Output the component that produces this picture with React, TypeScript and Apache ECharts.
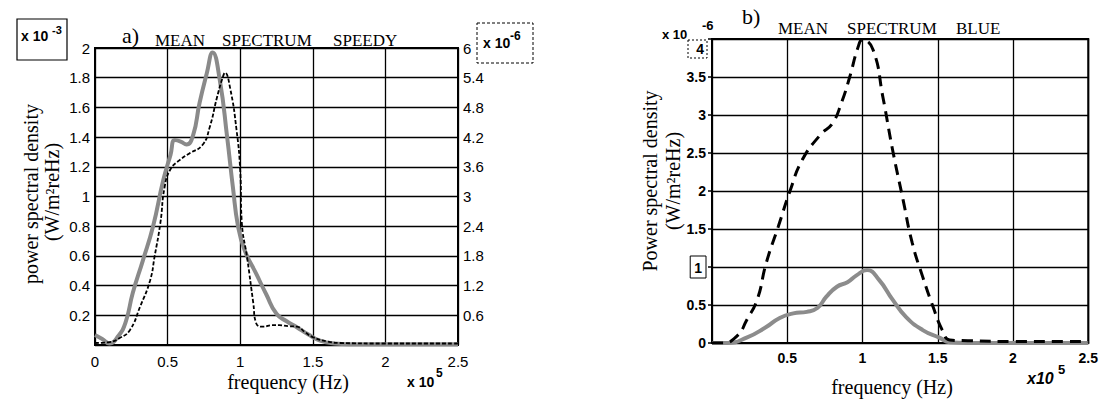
import React, { useEffect, useRef } from "react";
import * as echarts from "echarts";

// ---- Data (frequency in units of 10^5 Hz) ----
// a) SPEEDY — grey solid curve, left axis (x 10^-3)
const speedyGrayFreq = [0, 0.05, 0.1, 0.16, 0.21, 0.26, 0.33, 0.4, 0.47, 0.52, 0.55, 0.59, 0.63, 0.675, 0.72, 0.77, 0.81, 0.86, 0.91, 0.95, 0.985, 1.03, 1.11, 1.18, 1.25, 1.32, 1.39, 1.47, 1.55, 1.65, 1.75, 2.0, 2.5];
const speedyGrayPsd = [0.067, 0.04, 0.01, 0.06, 0.15, 0.35, 0.57, 0.8, 1.11, 1.28, 1.38, 1.37, 1.35, 1.41, 1.63, 1.83, 1.97, 1.78, 1.4, 1.06, 0.8, 0.64, 0.48, 0.34, 0.21, 0.16, 0.12, 0.07, 0.03, 0.01, 0.005, 0.005, 0.005];
// a) SPEEDY — black dashed curve, right axis (x 10^-6)
const speedyDashFreq = [0, 0.1, 0.17, 0.24, 0.31, 0.38, 0.41, 0.45, 0.48, 0.52, 0.585, 0.65, 0.74, 0.79, 0.84, 0.88, 0.895, 0.93, 0.975, 1.0, 1.01, 1.05, 1.09, 1.11, 1.16, 1.22, 1.27, 1.33, 1.39, 1.45, 1.5, 1.6, 1.69, 2.0, 2.5];
const speedyDashPsd = [0.04, 0.06, 0.14, 0.3, 0.77, 1.31, 1.78, 2.46, 3.2, 3.55, 3.74, 3.87, 4.04, 4.4, 5.0, 5.41, 5.5, 5.2, 4.34, 3.53, 2.52, 1.72, 0.85, 0.44, 0.37, 0.4, 0.4, 0.38, 0.37, 0.25, 0.16, 0.07, 0.04, 0.03, 0.03];
// b) BLUE — black dashed curve (x 10^-6)
const blueDashFreq = [0, 0.07, 0.17, 0.23, 0.3, 0.36, 0.44, 0.52, 0.6, 0.72, 0.8, 0.86, 0.915, 0.97, 1.0, 1.07, 1.135, 1.2, 1.27, 1.33, 1.4, 1.47, 1.53, 1.58, 1.7, 2.0, 2.5];
const blueDashPsd = [0, 0, 0.1, 0.3, 0.57, 1.05, 1.53, 2.01, 2.41, 2.74, 2.89, 3.16, 3.5, 3.89, 3.99, 3.86, 3.24, 2.54, 1.88, 1.32, 0.87, 0.47, 0.17, 0.04, 0.03, 0.02, 0.02];
// b) BLUE — grey solid curve (x 10^-6)
const blueGrayFreq = [0, 0.1, 0.23, 0.36, 0.45, 0.54, 0.63, 0.7, 0.76, 0.83, 0.9, 0.96, 1.03, 1.11, 1.2, 1.29, 1.4, 1.51, 1.58, 1.7, 2.5];
const blueGrayPsd = [0, 0, 0.07, 0.21, 0.33, 0.39, 0.41, 0.46, 0.61, 0.74, 0.8, 0.89, 0.96, 0.83, 0.57, 0.34, 0.17, 0.07, 0.01, 0, 0];

const freqTicks = [0, 0.5, 1, 1.5, 2, 2.5];

const zip = (xs: number[], ys: number[]) => xs.map((x, i) => [x, ys[i]]);
const fmt = (v: number) => String(Number(v.toFixed(2)));

const SANS = '"Liberation Sans", Arial, sans-serif';
const SERIF = '"Liberation Serif", "Times New Roman", serif';

export default function App() {
  const ref = useRef<HTMLDivElement>(null);

  useEffect(() => {
    if (!ref.current) return;
    const chart = echarts.init(ref.current, undefined, { renderer: "svg" });

    const axisLineStyle = { color: "#000", width: 2 };
    const gridLine = { show: true, lineStyle: { color: "#000", width: 1.3 } };

    const option: any = {
      animation: false,
      backgroundColor: "#fff",
      grid: [
        { left: 95, top: 48, width: 363, height: 297, show: true, borderColor: "#000", borderWidth: 2, backgroundColor: "transparent" },
        { left: 712, top: 39, width: 377, height: 304, show: true, borderColor: "#000", borderWidth: 2, backgroundColor: "transparent" },
      ],
      xAxis: [
        {
          type: "value", gridIndex: 0, min: freqTicks[0], max: freqTicks[freqTicks.length - 1], interval: 0.5,
          axisLine: { show: true, lineStyle: axisLineStyle }, axisTick: { show: false },
          splitLine: gridLine,
          axisLabel: { color: "#000", fontFamily: SANS, fontSize: 15, margin: 9, formatter: (v: number) => fmt(v) },
        },
        {
          type: "value", gridIndex: 1, min: freqTicks[0], max: freqTicks[freqTicks.length - 1], interval: 0.5,
          axisLine: { show: true, lineStyle: axisLineStyle }, axisTick: { show: false },
          splitLine: gridLine,
          axisLabel: { color: "#000", fontFamily: SANS, fontSize: 14, fontWeight: "bold", margin: 8, formatter: (v: number) => (v === 0 ? "" : fmt(v)) },
        },
      ],
      yAxis: [
        {
          type: "value", gridIndex: 0, min: 0, max: 2, interval: 0.2,
          axisLine: { show: true, lineStyle: axisLineStyle }, axisTick: { show: false },
          splitLine: gridLine,
          axisLabel: { color: "#000", fontFamily: SANS, fontSize: 15, margin: 5, formatter: (v: number) => (v === 0 ? "" : fmt(v)) },
        },
        {
          type: "value", gridIndex: 0, position: "right", min: 0, max: 6, interval: 0.6,
          axisLine: { show: true, lineStyle: axisLineStyle }, axisTick: { show: false },
          splitLine: { show: false },
          axisLabel: { color: "#000", fontFamily: SANS, fontSize: 15, margin: 5, formatter: (v: number) => (v === 0 ? "" : fmt(v)) },
        },
        {
          type: "value", gridIndex: 1, min: 0, max: 4, interval: 0.5,
          axisLine: { show: true, lineStyle: axisLineStyle },
          axisTick: { show: true, length: 4, lineStyle: { color: "#000", width: 1.5 } },
          splitLine: gridLine,
          axisLabel: {
            color: "#000", fontFamily: SANS, fontSize: 14, fontWeight: "bold", margin: 6,
            formatter: (v: number) => (v === 4 ? "" : v === 1 ? "{box|1}" : fmt(v)),
            rich: {
              box: { borderColor: "#000", borderWidth: 1, padding: [5, 4, 3, 4], fontFamily: SANS, fontSize: 14, fontWeight: "bold", color: "#000" },
            },
          },
        },
      ],
      series: [
        {
          type: "line", xAxisIndex: 0, yAxisIndex: 0, data: zip(speedyGrayFreq, speedyGrayPsd),
          showSymbol: false, smooth: 0.5,
          lineStyle: { color: "#8a8a8a", width: 4 }, z: 3,
        },
        {
          type: "line", xAxisIndex: 0, yAxisIndex: 1, data: zip(speedyDashFreq, speedyDashPsd),
          showSymbol: false, smooth: 0.5,
          lineStyle: { color: "#000", width: 1.8, type: [4, 2] }, z: 4,
        },
        {
          type: "line", xAxisIndex: 1, yAxisIndex: 2, data: zip(blueGrayFreq, blueGrayPsd),
          showSymbol: false, smooth: 0.5,
          lineStyle: { color: "#8c8c8c", width: 4 }, z: 3,
        },
        {
          type: "line", xAxisIndex: 1, yAxisIndex: 2, data: zip(blueDashFreq, blueDashPsd),
          showSymbol: false, smooth: 0.5,
          lineStyle: { color: "#000", width: 3, type: [11, 7] }, z: 4,
        },
      ],
      graphic: [
        // ---- chart a) ----
        { type: "text", x: 122, y: 35, style: { text: "a)", font: `22px ${SERIF}`, fill: "#000", align: "left", verticalAlign: "middle" } },
        { type: "text", x: 155, y: 40, style: { text: "MEAN", font: `17px ${SERIF}`, fill: "#000", align: "left", verticalAlign: "middle" } },
        { type: "text", x: 222, y: 40, style: { text: "SPECTRUM", font: `17px ${SERIF}`, fill: "#000", align: "left", verticalAlign: "middle" } },
        { type: "text", x: 333, y: 40, style: { text: "SPEEDY", font: `17px ${SERIF}`, fill: "#000", align: "left", verticalAlign: "middle" } },
        { type: "rect", shape: { x: 17, y: 19, width: 50, height: 41 }, style: { fill: "none", stroke: "#000", lineWidth: 1.2 } },
        { type: "text", x: 21, y: 36, style: { text: "x 10", font: `bold 14px ${SANS}`, fill: "#000", align: "left", verticalAlign: "middle" } },
        { type: "text", x: 52, y: 30, style: { text: "-3", font: `bold 11px ${SANS}`, fill: "#000", align: "left", verticalAlign: "middle" } },
        { type: "rect", shape: { x: 477, y: 23, width: 56, height: 40 }, style: { fill: "none", stroke: "#000", lineWidth: 1, lineDash: [3, 2] } },
        { type: "text", x: 483, y: 43, style: { text: "x 10", font: `bold 14px ${SANS}`, fill: "#000", align: "left", verticalAlign: "middle" } },
        { type: "text", x: 510, y: 36, style: { text: "-6", font: `bold 12px ${SANS}`, fill: "#000", align: "left", verticalAlign: "middle" } },
        { type: "text", x: 31, y: 194, rotation: Math.PI / 2, style: { text: "power spectral density", font: `20px ${SERIF}`, fill: "#000", align: "center", verticalAlign: "middle" } },
        { type: "text", x: 52, y: 192, rotation: Math.PI / 2, style: { text: "(W/m\u00b2reHz)", font: `20px ${SERIF}`, fill: "#000", align: "center", verticalAlign: "middle" } },
        { type: "text", x: 288, y: 382, style: { text: "frequency (Hz)", font: `20px ${SERIF}`, fill: "#000", align: "center", verticalAlign: "middle" } },
        { type: "text", x: 407, y: 382, style: { text: "x 10", font: `bold 14px ${SANS}`, fill: "#000", align: "left", verticalAlign: "middle" } },
        { type: "text", x: 436, y: 373, style: { text: "5", font: `bold 12px ${SANS}`, fill: "#000", align: "left", verticalAlign: "middle" } },
        // ---- chart b) ----
        { type: "text", x: 742, y: 16, style: { text: "b)", font: `22px ${SERIF}`, fill: "#000", align: "left", verticalAlign: "middle" } },
        { type: "text", x: 778, y: 28, style: { text: "MEAN", font: `17px ${SERIF}`, fill: "#000", align: "left", verticalAlign: "middle" } },
        { type: "text", x: 847, y: 28, style: { text: "SPECTRUM", font: `17px ${SERIF}`, fill: "#000", align: "left", verticalAlign: "middle" } },
        { type: "text", x: 956, y: 28, style: { text: "BLUE", font: `17px ${SERIF}`, fill: "#000", align: "left", verticalAlign: "middle" } },
        { type: "text", x: 662, y: 34, style: { text: "x 10", font: `bold 13px ${SANS}`, fill: "#000", align: "left", verticalAlign: "middle" } },
        { type: "text", x: 702, y: 25, style: { text: "-6", font: `bold 13px ${SANS}`, fill: "#000", align: "left", verticalAlign: "middle" } },
        { type: "rect", shape: { x: 688, y: 40, width: 19, height: 18 }, style: { fill: "none", stroke: "#000", lineWidth: 1, lineDash: [2, 2] } },
        { type: "text", x: 704, y: 49, style: { text: "4", font: `bold 14px ${SANS}`, fill: "#000", align: "right", verticalAlign: "middle" } },
        { type: "text", x: 650, y: 181, rotation: Math.PI / 2, style: { text: "Power spectral density", font: `20px ${SERIF}`, fill: "#000", align: "center", verticalAlign: "middle" } },
        { type: "text", x: 673, y: 181, rotation: Math.PI / 2, style: { text: "(W/m\u00b2reHz)", font: `20px ${SERIF}`, fill: "#000", align: "center", verticalAlign: "middle" } },
        { type: "text", x: 892, y: 387, style: { text: "frequency (Hz)", font: `20px ${SERIF}`, fill: "#000", align: "center", verticalAlign: "middle" } },
        { type: "text", x: 1027, y: 378, style: { text: "x10", font: `italic bold 16px ${SANS}`, fill: "#000", align: "left", verticalAlign: "middle" } },
        { type: "text", x: 1058, y: 369, style: { text: "5", font: `bold 13px ${SANS}`, fill: "#000", align: "left", verticalAlign: "middle" } },
      ],
    };

    chart.setOption(option);
    return () => chart.dispose();
  }, []);

  return (
    <div
      ref={ref}
      style={{ position: "absolute", left: 0, top: 0, width: 1101, height: 399, background: "#fff" }}
    />
  );
}
